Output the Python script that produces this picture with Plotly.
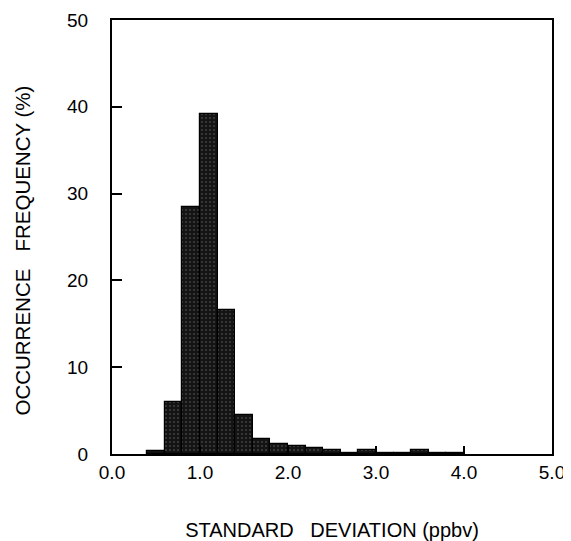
import plotly.graph_objects as go

bin_left = [0.4, 0.6, 0.8, 1.0, 1.2, 1.4, 1.6, 1.8, 2.0, 2.2, 2.4, 2.6, 2.8, 3.0, 3.2, 3.4, 3.6, 3.8]
frequency = [0.4, 6.0, 28.5, 39.2, 16.6, 4.5, 1.7, 1.2, 0.95, 0.65, 0.45, 0.1, 0.45, 0.1, 0.1, 0.5, 0.1, 0.1]
bin_width = 0.2
x_ticks = [0, 1, 2, 3, 4, 5]
x_tick_labels = ["0.0", "1.0", "2.0", "3.0", "4.0", "5.0"]
y_ticks = [0, 10, 20, 30, 40, 50]

centers = [b + bin_width / 2 for b in bin_left]

fig = go.Figure(go.Bar(
    x=centers, y=frequency, width=[bin_width] * len(centers),
    marker=dict(color="#141414", line=dict(color="black", width=1.2),
                pattern=dict(shape=".", fgcolor="#6e6e6e", size=4, solidity=0.2)),
))

font = dict(family="Liberation Sans, Arial, sans-serif", size=19, color="black")
# page body has an 8px default margin, so the figure is sized 8px smaller
fig.update_layout(
    width=563, height=533,
    margin=dict(l=104, r=19, t=12, b=87),
    paper_bgcolor="white", plot_bgcolor="white",
    font=font, showlegend=False, bargap=0,
)
fig.update_xaxes(
    range=[0, 5], tickvals=x_ticks, ticktext=x_tick_labels, automargin=False,
    ticks="inside", ticklen=8, tickwidth=1.5, tickcolor="black",
    showline=True, linecolor="black", linewidth=2, mirror=True,
    showgrid=False, zeroline=False,
    title=dict(text="STANDARD&nbsp;&nbsp;&nbsp;DEVIATION (ppbv)", standoff=54,
               font=dict(size=20)),
)
fig.update_yaxes(
    range=[0, 50], tickvals=y_ticks, automargin=False,
    ticks="inside", ticklen=10, tickwidth=1.5, tickcolor="black",
    showline=True, linecolor="black", linewidth=2, mirror=True,
    showgrid=False, zeroline=False, ticklabelstandoff=18,
)
fig.add_annotation(
    text="OCCURRENCE&nbsp;&nbsp;&nbsp;FREQUENCY (%)", textangle=-90,
    xref="paper", yref="paper", x=-0.203, y=0.468,
    xanchor="center", yanchor="middle", showarrow=False,
    font=dict(size=20.5),
)
fig.write_html("out.html")
